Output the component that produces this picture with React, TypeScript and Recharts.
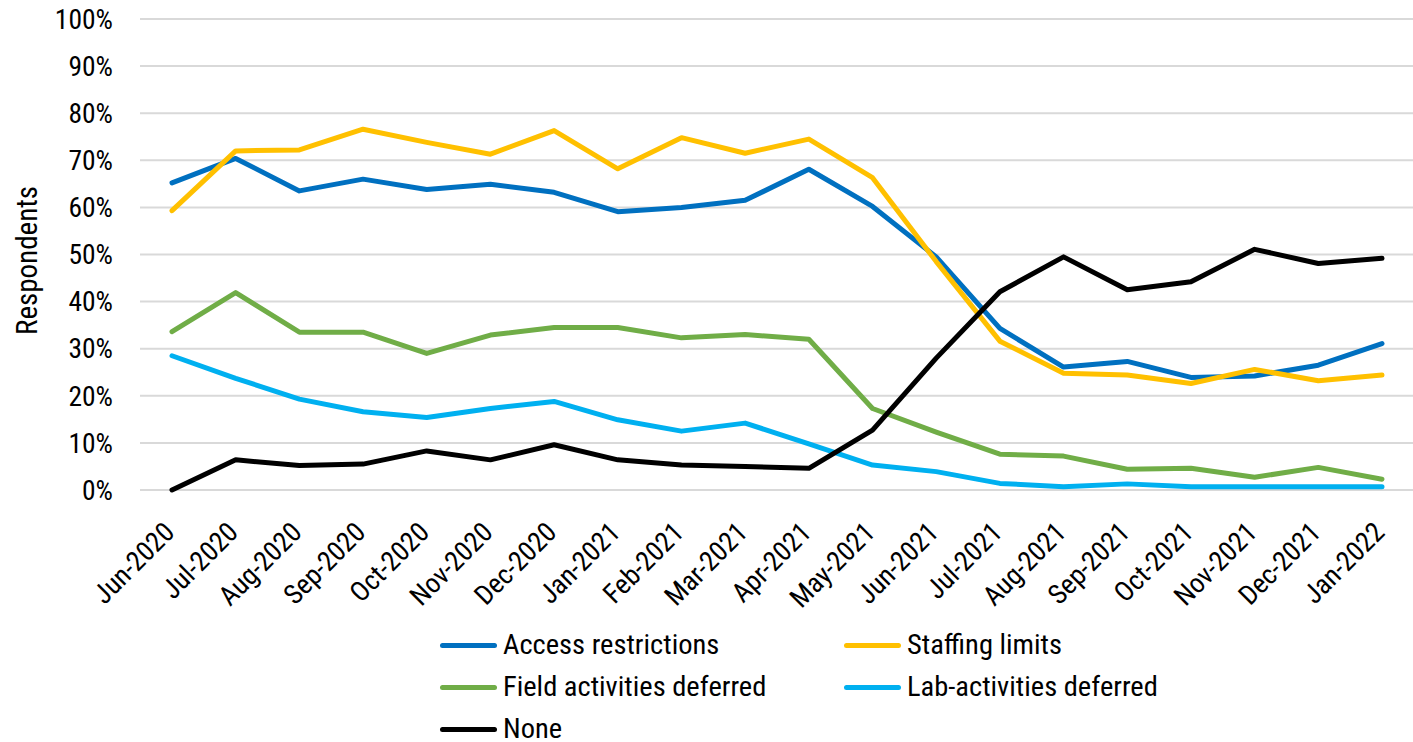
import React from 'react';
import { CartesianGrid, Legend, Line, LineChart, XAxis, YAxis } from 'recharts';

const months = [
  'Jun-2020', 'Jul-2020', 'Aug-2020', 'Sep-2020', 'Oct-2020', 'Nov-2020', 'Dec-2020',
  'Jan-2021', 'Feb-2021', 'Mar-2021', 'Apr-2021', 'May-2021', 'Jun-2021', 'Jul-2021',
  'Aug-2021', 'Sep-2021', 'Oct-2021', 'Nov-2021', 'Dec-2021', 'Jan-2022',
];

const accessRestrictions = [65.2, 70.4, 63.5, 66, 63.8, 64.9, 63.2, 59.1, 60, 61.5, 68.1, 60.2, 49.5, 34.3, 26.1, 27.3, 23.9, 24.2, 26.5, 31.1];
const staffingLimits = [59.3, 72, 72.2, 76.6, 73.8, 71.3, 76.3, 68.2, 74.8, 71.5, 74.5, 66.3, 48.5, 31.6, 24.8, 24.4, 22.6, 25.6, 23.2, 24.4];
const fieldDeferred = [33.6, 41.9, 33.5, 33.5, 29, 32.9, 34.5, 34.5, 32.3, 33, 32, 17.3, 12.3, 7.6, 7.2, 4.4, 4.6, 2.7, 4.8, 2.3];
const labDeferred = [28.5, 23.7, 19.3, 16.6, 15.4, 17.3, 18.8, 14.9, 12.5, 14.2, 9.8, 5.3, 3.9, 1.4, 0.7, 1.3, 0.7, 0.7, 0.7, 0.7];
const noneReported = [0, 6.4, 5.2, 5.5, 8.3, 6.4, 9.6, 6.4, 5.3, 5, 4.6, 12.7, 28, 42.1, 49.5, 42.5, 44.2, 51.1, 48.1, 49.2];

const yTicks = [0, 10, 20, 30, 40, 50, 60, 70, 80, 90, 100];

const series = [
  { key: 'access', label: 'Access restrictions', color: '#0070c0', values: accessRestrictions },
  { key: 'staffing', label: 'Staffing limits', color: '#ffc000', values: staffingLimits },
  { key: 'field', label: 'Field activities deferred', color: '#70ad47', values: fieldDeferred },
  { key: 'lab', label: 'Lab-activities deferred', color: '#00b0f0', values: labDeferred },
  { key: 'none', label: 'None', color: '#000000', values: noneReported },
];

const data = months.map((month, i) => {
  const row: Record<string, string | number> = { month };
  series.forEach((s) => {
    row[s.key] = s.values[i];
  });
  return row;
});

const FONT = "'Roboto Condensed', 'Liberation Sans Narrow', 'DejaVu Sans Condensed', Roboto, sans-serif";

function MonthTick(props: any) {
  const { x, y, payload } = props;
  return (
    <text
      transform={`translate(${x + 4},${y + 42}) rotate(-45)`}
      textAnchor="end"
      fontSize={27.5}
      fontFamily={FONT}
      fill="#000"
    >
      {payload.value}
    </text>
  );
}

// two-column legend like the Excel original
function LegendBox() {
  return (
    <div style={{ position: 'relative', width: 1413, height: 110, fontFamily: FONT, fontSize: 28.5, lineHeight: '26px', color: '#000' }}>
      {series.map((s, i) => {
        const col = i % 2;
        const row = Math.floor(i / 2);
        return (
          <div
            key={s.key}
            style={{
              position: 'absolute',
              left: 440 + col * 404,
              top: row * 42,
              display: 'flex',
              alignItems: 'center',
              height: 26,
              whiteSpace: 'nowrap',
            }}
          >
            <span style={{ display: 'inline-block', width: 57, height: 5, borderRadius: 3, background: s.color, marginRight: 6 }} />
            <span>{s.label}</span>
          </div>
        );
      })}
    </div>
  );
}

export default function App() {
  return (
    <div style={{ position: 'absolute', left: 0, top: 0, width: 1413, height: 742, background: '#fff' }}>
      <LineChart width={1413} height={742} data={data} margin={{ top: 19, right: 0, bottom: 0, left: 0 }}>
        <CartesianGrid horizontal vertical={false} stroke="#d9d9d9" strokeWidth={2} />
        <XAxis
          dataKey="month"
          axisLine={false}
          tickLine={false}
          tickSize={0}
          interval={0}
          height={252}
          padding={{ left: 32, right: 31 }}
          tick={<MonthTick />}
        />
        <YAxis
          domain={[0, 100]}
          ticks={yTicks}
          width={140}
          axisLine={false}
          tickLine={false}
          tickSize={0}
          tickMargin={27}
          tickFormatter={(v) => `${v}%`}
          tick={{ fontSize: 27.5, fontFamily: FONT, fill: '#000' }}
          label={{
            value: 'Respondents',
            angle: -90,
            position: 'insideLeft',
            offset: 27,
            dy: 6,
            style: { fontSize: 29, fontFamily: FONT, fill: '#000', textAnchor: 'middle' },
          }}
        />
        <Legend
          layout="horizontal"
          verticalAlign="middle"
          align="center"
          wrapperStyle={{ top: 632, left: 0, width: 1413 }}
          content={<LegendBox />}
        />
        {series.map((s) => (
          <Line
            key={s.key}
            dataKey={s.key}
            name={s.label}
            stroke={s.color}
            strokeWidth={5}
            dot={false}
            activeDot={false}
            strokeLinecap="round"
            strokeLinejoin="round"
            isAnimationActive={false}
          />
        ))}
      </LineChart>
    </div>
  );
}
